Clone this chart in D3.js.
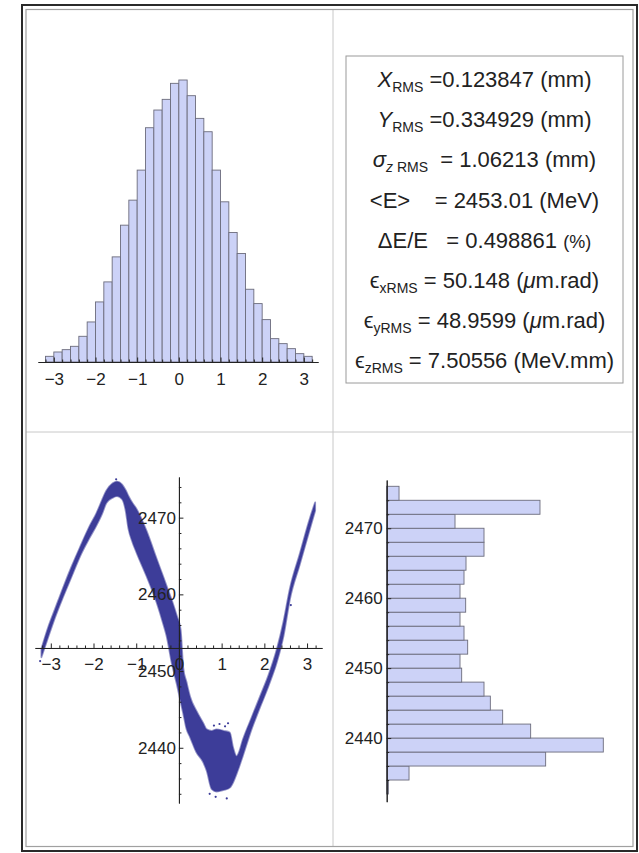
<!DOCTYPE html>
<html>
<head>
<meta charset="utf-8">
<script src="https://cdn.jsdelivr.net/npm/d3@7"></script>
<style>
  body { margin: 0; background: #fff; }
  svg { display: block; }
  text { font-family: "Liberation Sans", Arial, sans-serif; fill: #222; }
</style>
</head>
<body>
<svg id="chart" width="639" height="853"></svg>
<script>
// z histogram (mm), bin width 0.2
let zBinLeft = [-3.2, -3.0, -2.8, -2.6, -2.4, -2.2, -2.0, -1.8, -1.6, -1.4, -1.2, -1.0, -0.8, -0.6, -0.4, -0.2,
                0.0, 0.2, 0.4, 0.6, 0.8, 1.0, 1.2, 1.4, 1.6, 1.8, 2.0, 2.2, 2.4, 2.6, 2.8, 3.0];
let zCounts = [17, 30, 37, 47, 77, 120, 180, 240, 315, 410, 485, 575, 702, 755, 787, 835,
               845, 798, 730, 690, 575, 480, 388, 325, 218, 175, 127, 70, 55, 40, 25, 17];
let zBinWidth = 0.2;
let zTicks = [-3, -2, -1, 0, 1, 2, 3];

// energy histogram (MeV), bin width 2
let eBinLow = [2432, 2434, 2436, 2438, 2440, 2442, 2444, 2446, 2448, 2450, 2452,
               2454, 2456, 2458, 2460, 2462, 2464, 2466, 2468, 2470, 2472, 2474];
let eCounts = [5, 67, 477, 650, 432, 348, 311, 292, 225, 220, 243,
               232, 220, 237, 220, 232, 238, 292, 292, 205, 460, 37];
let eBinWidth = 2;
let eTicks = [2440, 2450, 2460, 2470];
let eMean = 2453.01;

// longitudinal phase space: band of points, upper / lower edge
let bandZ  = [-3.22, -3.05, -2.90, -2.71, -2.50, -2.32, -2.10, -1.93, -1.80, -1.70,
              -1.55, -1.45, -1.33, -1.25, -1.18, -1.10, -0.99, -0.76, -0.52, -0.36,
              -0.29, -0.17, -0.05, 0.04, 0.10, 0.18, 0.26, 0.41, 0.57, 0.65,
              0.77, 0.88, 1.05, 1.19, 1.27, 1.35, 1.39, 1.50, 1.70, 1.90,
              2.10, 2.30, 2.45, 2.60, 2.83, 3.07, 3.19];
let bandHi = [2452.9, 2455.9, 2458.1, 2460.9, 2463.8, 2466.1, 2468.8, 2470.6, 2472.3, 2473.5,
              2474.5, 2474.7, 2474.3, 2473.6, 2472.8, 2472.0, 2471.1, 2468.3, 2464.6, 2462.2,
              2461.1, 2459.3, 2457.2, 2455.4, 2450.5, 2448.5, 2446.7, 2444.8, 2443.2, 2442.4,
              2442.2, 2442.4, 2442.2, 2442.0, 2440.0, 2438.9, 2439.2, 2441.1, 2443.9, 2446.7,
              2449.5, 2453.0, 2456.5, 2460.8, 2465.3, 2470.0, 2472.0];
let bandLo = [2451.8, 2454.6, 2457.0, 2459.7, 2462.5, 2464.9, 2467.3, 2469.0, 2470.5, 2471.9,
              2472.6, 2472.8, 2472.4, 2471.0, 2468.5, 2467.0, 2465.4, 2462.4, 2458.9, 2456.0,
              2454.6, 2451.1, 2448.3, 2446.0, 2444.5, 2442.4, 2441.4, 2439.4, 2438.1, 2437.0,
              2434.6, 2434.3, 2434.5, 2434.8, 2435.5, 2436.6, 2437.2, 2439.0, 2442.4, 2445.3,
              2448.1, 2451.3, 2454.6, 2459.4, 2463.9, 2468.6, 2470.9];
let strayZ = [-3.25, 0.82, 0.95, 1.08, 1.15, 0.86, 1.12, 0.72, -1.47, 2.62];
let strayE = [2451.3, 2442.9, 2443.1, 2442.8, 2443.2, 2433.6, 2433.4, 2434.0, 2475.0, 2458.6];

// beam parameters
let statNames = ["X", "Y", "σ", "<E>", "ΔE/E", "ϵ", "ϵ", "ϵ"];
let statSubs = ["RMS", "RMS", "z RMS", "", "", "xRMS", "yRMS", "zRMS"];
let statValues = ["0.123847", "0.334929", "1.06213", "2453.01", "0.498861", "50.148", "48.9599", "7.50556"];
let statUnits = ["(mm)", "(mm)", "(mm)", "(MeV)", "(%)", "(μm.rad)", "(μm.rad)", "(MeV.mm)"];

let barFill = "#ccd2f7";
let barEdge = "#6c6c7c";
let ink = "#222";
let dotColor = "#3d3d99";

let svg = d3.select("#chart");

const styleAxis = (g) => {
    g.select(".domain").attr("stroke", ink).attr("stroke-width", 1);
    g.selectAll(".tick line").attr("stroke", ink);
    g.selectAll(".tick text").attr("fill", ink).style("font-size", "17px")
        .style("font-family", '"Liberation Sans", Arial, sans-serif');
};
let intFmt = d3.format("d");

// ---------- top left: z histogram ----------
let xTop = d3.scaleLinear().domain([-3.38, 3.34]).range([38, 318]);
let yTop = d3.scaleLinear().domain([0, 845]).range([362, 80]);

let gTop = svg.append("g");
gTop.selectAll("rect")
    .data(zCounts)
    .enter().append("rect")
    .attr("x", (d, i) => xTop(zBinLeft[i]))
    .attr("y", d => yTop(d))
    .attr("width", (d, i) => xTop(zBinLeft[i] + zBinWidth) - xTop(zBinLeft[i]))
    .attr("height", d => yTop(0) - yTop(d))
    .attr("fill", barFill)
    .attr("stroke", barEdge)
    .attr("stroke-width", 0.9);

let topMinor = d3.range(-3.2, 3.21, 0.2).filter(v => Math.abs(v - Math.round(v)) > 0.01);
gTop.append("g")
    .attr("transform", "translate(0," + yTop(0) + ")")
    .call(d3.axisBottom(xTop).tickValues(topMinor).tickSize(-2.5).tickSizeOuter(0).tickFormat(""))
    .call(styleAxis);
gTop.append("g")
    .attr("transform", "translate(0," + yTop(0) + ")")
    .call(d3.axisBottom(xTop).tickValues(zTicks).tickSize(-4.5).tickSizeOuter(0).tickPadding(11).tickFormat(intFmt))
    .call(styleAxis);

// ---------- top right: parameters box ----------
let box = {x: 346, y: 56, w: 277, h: 327};
svg.append("rect")
    .attr("x", box.x).attr("y", box.y).attr("width", box.w).attr("height", box.h)
    .attr("fill", "none").attr("stroke", "#9a9a9a").attr("stroke-width", 1);

let gaps = ["", "", "", "   ", "  ", "", "", ""];
statNames.forEach((name, i) => {
    let t = svg.append("text")
        .attr("x", box.x + box.w / 2)
        .attr("y", 87 + i * 40.2)
        .attr("text-anchor", "middle")
        .style("font-size", "22px")
        .style("white-space", "pre");
    t.append("tspan").text(name).style("font-style", i < 3 ? "italic" : "normal");
    if (statSubs[i] !== "") {
        let parts = statSubs[i].split(" ");
        if (parts.length === 2) {
            t.append("tspan").attr("dy", 5).style("font-size", "14px").style("font-style", "italic").text(parts[0]);
            t.append("tspan").style("font-size", "14px").text(" " + parts[1]);
        } else {
            t.append("tspan").attr("dy", 5).style("font-size", "14px").text(statSubs[i]);
        }
        t.append("tspan").attr("dy", -5).text(i < 2 ? " =" : (i === 2 ? "  = " : " = "));
    } else {
        t.append("tspan").text(gaps[i] + " = ");
    }
    t.append("tspan").text(statValues[i] + " ");
    let unit = statUnits[i];
    if (unit.indexOf("μ") >= 0) {
        t.append("tspan").text("(");
        t.append("tspan").style("font-style", "italic").text("μ");
        t.append("tspan").text(unit.slice(2));
    } else if (unit === "(%)") {
        t.append("tspan").style("font-size", "18px").text(unit);
    } else {
        t.append("tspan").text(unit);
    }
});

// ---------- bottom left: E vs z ----------
let xSc = d3.scaleLinear().domain([-3.37, 3.35]).range([35, 322]);
let ySc = d3.scaleLinear().domain([2432.8, 2475.3]).range([803, 477]);

let band = d3.area()
    .x((d, i) => xSc(bandZ[i]))
    .y0((d, i) => ySc(bandLo[i]))
    .y1((d, i) => ySc(bandHi[i]))
    .curve(d3.curveMonotoneX);

let gSc = svg.append("g");
gSc.append("path")
    .datum(bandZ)
    .attr("d", band)
    .attr("fill", dotColor)
    .attr("stroke", dotColor)
    .attr("stroke-width", 1.8)
    .attr("stroke-opacity", 0.55)
    .attr("stroke-linejoin", "round");

gSc.selectAll("circle")
    .data(strayZ)
    .enter().append("circle")
    .attr("cx", d => xSc(d))
    .attr("cy", (d, i) => ySc(strayE[i]))
    .attr("r", 1.1)
    .attr("fill", dotColor);

gSc.append("g")
    .attr("transform", "translate(0," + ySc(eMean) + ")")
    .call(d3.axisBottom(xSc).tickValues(topMinor).tickSize(-2.5).tickSizeOuter(0).tickFormat(""))
    .call(styleAxis);
gSc.append("g")
    .attr("transform", "translate(0," + ySc(eMean) + ")")
    .call(d3.axisBottom(xSc).tickValues(zTicks).tickSize(-4.5).tickSizeOuter(0).tickPadding(10).tickFormat(intFmt))
    .call(styleAxis);

let eMinor = d3.range(2434, 2475, 2).filter(v => v % 10 !== 0);
gSc.append("g")
    .attr("transform", "translate(" + xSc(0) + ",0)")
    .call(d3.axisLeft(ySc).tickValues(eMinor).tickSize(-2.5).tickSizeOuter(0).tickFormat(""))
    .call(styleAxis);
gSc.append("g")
    .attr("transform", "translate(" + xSc(0) + ",0)")
    .call(d3.axisLeft(ySc).tickValues(eTicks).tickSize(-4.5).tickSizeOuter(0).tickPadding(3).tickFormat(intFmt))
    .call(styleAxis);

// ---------- bottom right: E histogram ----------
let xH = d3.scaleLinear().domain([0, 650]).range([386.7, 603.3]);
let yH = d3.scaleLinear().domain([2430.9, 2476.9]).range([801.7, 480]);

let gH = svg.append("g");
gH.selectAll("rect")
    .data(eCounts)
    .enter().append("rect")
    .attr("x", xH(0))
    .attr("y", (d, i) => yH(eBinLow[i] + eBinWidth))
    .attr("width", d => xH(d) - xH(0))
    .attr("height", (d, i) => yH(eBinLow[i]) - yH(eBinLow[i] + eBinWidth))
    .attr("fill", barFill)
    .attr("stroke", barEdge)
    .attr("stroke-width", 0.9);

gH.append("g")
    .attr("transform", "translate(" + xH(0) + ",0)")
    .call(d3.axisLeft(yH).tickValues(eMinor).tickSize(-2.5).tickSizeOuter(0).tickFormat(""))
    .call(styleAxis);
gH.append("g")
    .attr("transform", "translate(" + xH(0) + ",0)")
    .call(d3.axisLeft(yH).tickValues(eTicks).tickSize(-4.5).tickSizeOuter(0).tickPadding(4).tickFormat(intFmt))
    .call(styleAxis);

// ---------- grid frame ----------
svg.append("line").attr("x1", 333).attr("x2", 333).attr("y1", 9.5).attr("y2", 846.5)
    .attr("stroke", "#c8c8c8").attr("stroke-width", 1);
svg.append("line").attr("x1", 26).attr("x2", 633).attr("y1", 432).attr("y2", 432)
    .attr("stroke", "#c8c8c8").attr("stroke-width", 1);
svg.append("rect").attr("x", 22).attr("y", 5).attr("width", 615).attr("height", 846)
    .attr("fill", "none").attr("stroke", "#2a2a2a").attr("stroke-width", 2);
svg.append("rect").attr("x", 26).attr("y", 9.5).attr("width", 607).attr("height", 837)
    .attr("fill", "none").attr("stroke", "#a0a0a0").attr("stroke-width", 1.2);
</script>
</body>
</html>
